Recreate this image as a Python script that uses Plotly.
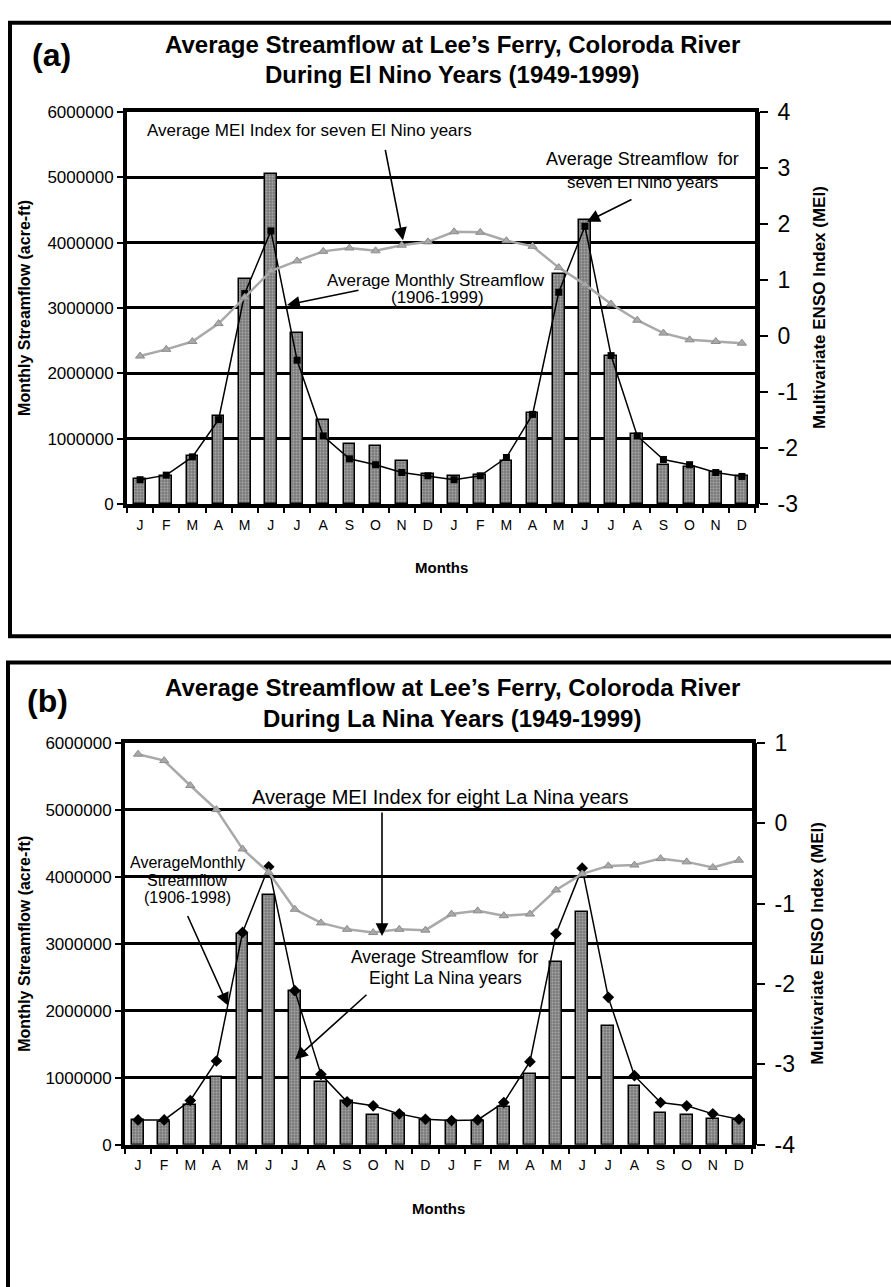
import plotly.graph_objects as go

# ---------------- data ----------------
month_labels = ["J", "F", "M", "A", "M", "J", "J", "A", "S", "O", "N", "D",
                "J", "F", "M", "A", "M", "J", "J", "A", "S", "O", "N", "D"]
month_pos = list(range(24))
boundaries = [k - 0.5 for k in range(25)]

flow_ticks = [0, 1000000, 2000000, 3000000, 4000000, 5000000, 6000000]
flow_tick_labels = ["0", "1000000", "2000000", "3000000", "4000000", "5000000", "6000000"]
mei_ticks_a = [-3, -2, -1, 0, 1, 2, 3, 4]
mei_tick_labels_a = ["-3", "-2", "-1", "0", "1", "2", "3", "4"]
mei_ticks_b = [-4, -3, -2, -1, 0, 1]
mei_tick_labels_b = ["-4", "-3", "-2", "-1", "0", "1"]

# (a) El Nino
elnino_flow = [380000, 420000, 740000, 1340000, 3450000, 5050000, 2620000, 1290000,
               920000, 890000, 650000, 460000, 430000, 450000, 650000, 1390000,
               3520000, 4350000, 2270000, 1070000, 590000, 570000, 490000, 430000]
avg_flow_a = [370000, 440000, 720000, 1290000, 3220000, 4180000, 2200000, 1040000,
              690000, 600000, 480000, 430000, 370000, 430000, 710000, 1370000,
              3240000, 4250000, 2270000, 1040000, 680000, 600000, 480000, 420000]
mei_a = [-0.36, -0.24, -0.10, 0.22, 0.69, 1.16, 1.34, 1.51, 1.57, 1.52, 1.62, 1.68,
         1.86, 1.85, 1.70, 1.60, 1.22, 0.92, 0.57, 0.28, 0.05, -0.07, -0.10, -0.13]

# (b) La Nina
lanina_flow = [370000, 340000, 590000, 1010000, 3150000, 3730000, 2290000, 930000,
               660000, 440000, 460000, 370000, 360000, 360000, 560000, 1060000,
               2730000, 3470000, 1780000, 880000, 470000, 450000, 390000, 370000]
avg_flow_b = [370000, 370000, 660000, 1250000, 3170000, 4150000, 2300000, 1050000,
              640000, 580000, 460000, 380000, 360000, 370000, 630000, 1240000,
              3150000, 4130000, 2200000, 1030000, 630000, 580000, 460000, 380000]
mei_b = [0.86, 0.78, 0.47, 0.17, -0.32, -0.61, -1.07, -1.24, -1.32, -1.36, -1.32, -1.33,
         -1.13, -1.09, -1.15, -1.13, -0.83, -0.63, -0.53, -0.52, -0.44, -0.48, -0.55, -0.46]

W, H = 891, 1287
FONT = "Arial, Liberation Sans, sans-serif"


def px(x):
    return x / W


def py(y):
    return 1 - y / H


fig = go.Figure()

bar_style = dict(color="#8a8a8a",
                 line=dict(color="black", width=1.5),
                 pattern=dict(shape=".", fgcolor="#d8d8d8", bgcolor="#7a7a7a",
                              size=3, solidity=0.35))
mei_style = dict(color="#a9a9a9", width=2.5)

# panel (a)
fig.add_trace(go.Bar(x=month_pos, y=elnino_flow, width=0.45, marker=bar_style,
                     xaxis="x", yaxis="y", showlegend=False))
fig.add_trace(go.Scatter(x=month_pos, y=avg_flow_a, mode="lines+markers",
                         line=dict(color="black", width=1.5),
                         marker=dict(symbol="square", size=7, color="black"),
                         xaxis="x", yaxis="y", showlegend=False))
fig.add_trace(go.Scatter(x=month_pos, y=mei_a, mode="lines+markers", line=mei_style,
                         marker=dict(symbol="triangle-up", size=8, color="#a9a9a9",
                                     line=dict(color="#8c8c8c", width=1)),
                         xaxis="x", yaxis="y2", showlegend=False))

# panel (b)
fig.add_trace(go.Bar(x=month_pos, y=lanina_flow, width=0.45, marker=bar_style,
                     xaxis="x2", yaxis="y3", showlegend=False))
fig.add_trace(go.Scatter(x=month_pos, y=avg_flow_b, mode="lines+markers",
                         line=dict(color="black", width=1.5),
                         marker=dict(symbol="diamond", size=9, color="black"),
                         xaxis="x2", yaxis="y3", showlegend=False))
fig.add_trace(go.Scatter(x=month_pos, y=mei_b, mode="lines+markers", line=mei_style,
                         marker=dict(symbol="triangle-up", size=8, color="#a9a9a9",
                                     line=dict(color="#8c8c8c", width=1)),
                         xaxis="x2", yaxis="y4", showlegend=False))


def xaxis_cfg(dom, anchor):
    return dict(domain=dom, anchor=anchor, range=[-0.5, 23.5],
                tickmode="array", tickvals=boundaries,
                ticktext=month_labels + [""], ticklabelshift=13,
                ticks="outside", ticklen=5, tickwidth=1.5, tickcolor="black",
                showgrid=False, zeroline=False, showline=True, linecolor="black",
                linewidth=4, mirror=True,
                tickfont=dict(family=FONT, size=14, color="black"))


def yaxis_cfg(dom, anchor):
    return dict(domain=dom, anchor=anchor, range=[0, 6000000],
                tickmode="array", tickvals=flow_ticks, ticktext=flow_tick_labels,
                showgrid=True, gridcolor="black",
                gridwidth=2.5, zeroline=False, showline=True, linecolor="black",
                linewidth=4, mirror=True, ticks="outside", ticklen=6,
                tickwidth=1.5, tickcolor="black",
                tickfont=dict(family=FONT, size=17, color="black"))


def y2_cfg(over, anchor, rng, tv, tt):
    return dict(overlaying=over, anchor=anchor, side="right", range=rng,
                tickmode="array", tickvals=tv, ticktext=tt,
                showgrid=False, zeroline=False, showline=True, linecolor="black",
                linewidth=5, ticks="outside", ticklen=8, tickwidth=1.5,
                tickcolor="black", ticklabelstandoff=5,
                tickfont=dict(family=FONT, size=23, color="black"))


fig.update_layout(
    width=W, height=H, margin=dict(l=0, r=0, t=0, b=0),
    paper_bgcolor="white", plot_bgcolor="white", bargap=0,
    xaxis=xaxis_cfg([px(127), px(755)], "y"),
    yaxis=yaxis_cfg([py(501), py(101)], "x"),
    yaxis2=y2_cfg("y", "x", [-3, 4], mei_ticks_a, mei_tick_labels_a),
    xaxis2=xaxis_cfg([px(125), px(752)], "y3"),
    yaxis3=yaxis_cfg([py(1155), py(745)], "x2"),
    yaxis4=y2_cfg("y3", "x2", [-4, 1], mei_ticks_b, mei_tick_labels_b),
)

ann = []


def text(x, y, s, size, bold=False, xanchor="center", angle=0):
    ann.append(dict(x=px(x), y=py(y), xref="paper", yref="paper", text=s,
                    showarrow=False, xanchor=xanchor, yanchor="middle",
                    textangle=angle,
                    font=dict(family=FONT, size=size, color="black",
                              weight="bold" if bold else "normal")))


def arrow(x0, y0, x1, y1):
    ann.append(dict(x=px(x1), y=py(y1), xref="paper", yref="paper", text="",
                    showarrow=True, ax=x0 - x1, ay=y0 - y1, axref="pixel",
                    ayref="pixel", arrowhead=2, arrowsize=1.6, arrowwidth=1.6,
                    arrowcolor="black", standoff=0))


# ---- panel (a) texts ----
text(51, 43, "(a)", 32, bold=True)
text(452, 32, "Average Streamflow at Lee\u2019s Ferry, Coloroda River", 24, bold=True)
text(452, 63, "During El Nino Years (1949-1999)", 24, bold=True)
text(25, 301, "Monthly Streamflow (acre-ft)", 16, bold=True, angle=-90)
text(820, 301, "Multivariate ENSO Index (MEI)", 17, bold=True, angle=-90)
text(441, 566, "Months", 15, bold=True)
text(145, 120, "Average MEI Index for seven El Nino years", 17, xanchor="left")
text(436, 273, "Average Monthly Streamflow", 17)
text(437, 290, "(1906-1999)", 17)
text(642, 149, "Average Streamflow  for", 18)
text(642, 173, "seven El Nino years", 17)
arrow(385, 140, 403, 232)
arrow(360, 283, 287, 298)
arrow(633, 190, 587, 213)

# ---- panel (b) texts ----
text(47, 702, "(b)", 32, bold=True)
text(452, 688, "Average Streamflow at Lee\u2019s Ferry, Coloroda River", 24, bold=True)
text(452, 720, "During La Nina Years (1949-1999)", 24, bold=True)
text(25, 950, "Monthly Streamflow (acre-ft)", 16, bold=True, angle=-90)
text(818, 950, "Multivariate ENSO Index (MEI)", 17, bold=True, angle=-90)
text(438, 1220, "Months", 15, bold=True)
text(440, 800, "Average MEI Index for eight La Nina years", 20)
text(187, 867, "AverageMonthly", 16)
text(187, 885, "Streamflow", 16)
text(187, 903, "(1906-1998)", 16)
text(445, 963, "Average Streamflow  for", 17.5)
text(445, 985, "Eight La Nina years", 17.5)
arrow(382, 817, 382, 942)
arrow(187, 922, 228, 1013)
arrow(368, 1002, 295, 1068)

fig.update_layout(annotations=ann)

# panel borders
fig.add_shape(type="rect", xref="paper", yref="paper", x0=px(10), y0=py(636),
              x1=px(950), y1=py(10), line=dict(color="black", width=4),
              fillcolor="rgba(0,0,0,0)", layer="below")
fig.add_shape(type="rect", xref="paper", yref="paper", x0=px(8), y0=py(1450),
              x1=px(950), y1=py(663), line=dict(color="black", width=4),
              fillcolor="rgba(0,0,0,0)", layer="below")

fig.write_html("out.html", config={"displayModeBar": False},
               post_script="document.body.style.margin='0';")
